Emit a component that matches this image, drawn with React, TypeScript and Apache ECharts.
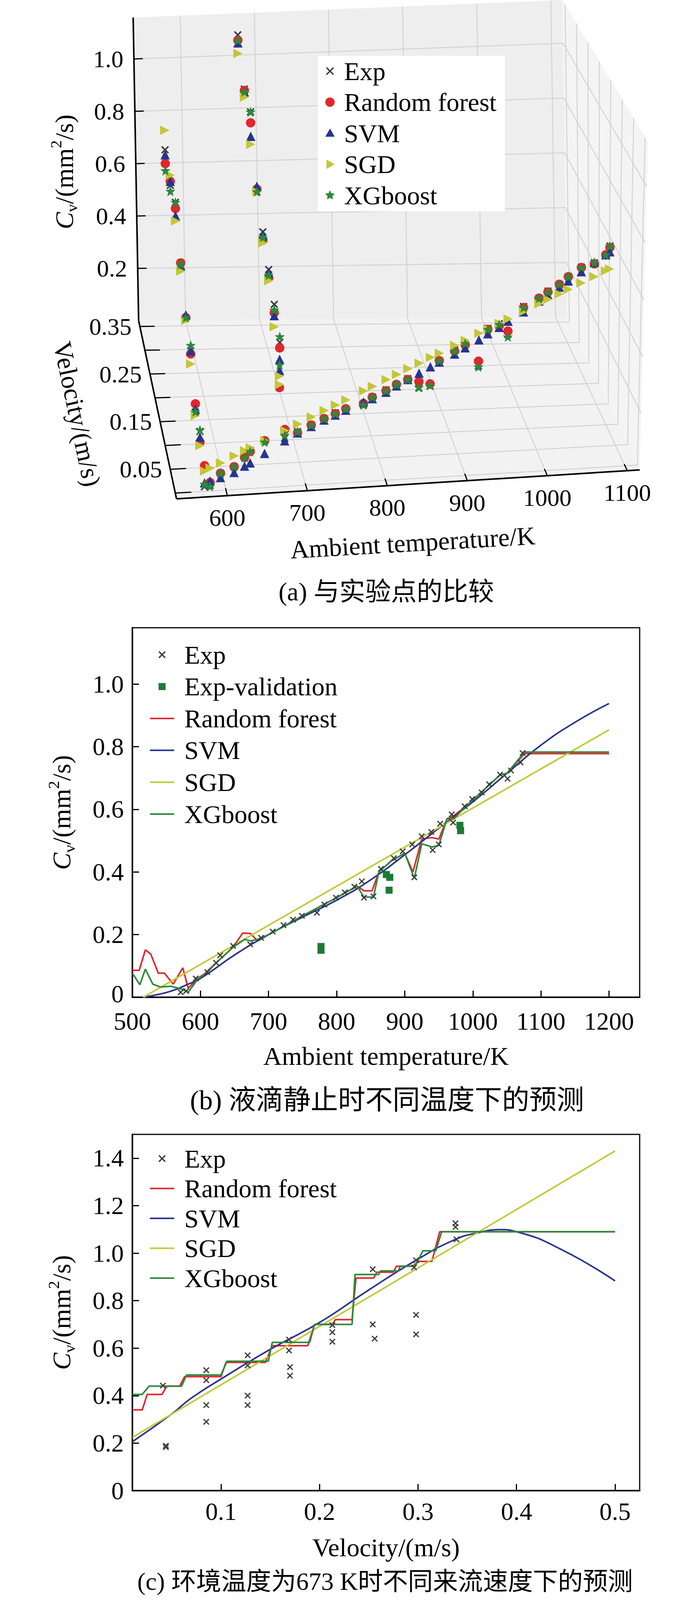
import { useEffect, useRef } from "react"
import * as echarts from "echarts"

const PAGE_W = 1772
const PAGE_H = 4181
const SERIF = "'Liberation Serif', 'Times New Roman', serif"
const CAPTION_FONT = "'Liberation Serif', 'Noto Sans CJK SC', serif"

const RED = "#e2262c"
const BLUE = "#26348f"
const OLIVE = "#c3c736"
const GREEN = "#2b8a3b"
const DARK_GREEN = "#1d7a33"
const GREY = "#3d3d3d"

const X_SYMBOL = "path://M0,1.4L1.4,0L5,3.6L8.6,0L10,1.4L6.4,5L10,8.6L8.6,10L5,6.4L1.4,10L0,8.6L3.6,5Z"
const STAR_SYMBOL = "path://M5,0L6.3,3.4L10,3.6L7.1,5.9L8.1,9.6L5,7.5L1.9,9.6L2.9,5.9L0,3.6L3.7,3.4Z"

// ---------- (a) 3D comparison with experiment ----------
const aBoxT = [536.5, 1115.5]
const aBoxV = [-0.012, 0.362]
const aBoxC = [0, 1.158]
const aTicksT = [600, 700, 800, 900, 1000, 1100]
const aTicksV = [0, 0.05, 0.1, 0.15, 0.2, 0.25, 0.3, 0.35]
const aLabelsV = [0.05, 0.15, 0.25, 0.35]
const aTicksC = [0.2, 0.4, 0.6, 0.8, 1.0]

// static droplet (velocity 0)
const aStaticT = [573, 580, 593, 610, 623, 630, 648, 673, 689, 706, 722, 736, 749, 771, 782, 799, 812, 826, 840, 854, 865, 884, 897, 914, 925, 939, 950, 969, 988, 999, 1013, 1024, 1040, 1056, 1070, 1075]
const aStaticExp = [0.016, 0.02, 0.06, 0.08, 0.11, 0.134, 0.164, 0.169, 0.19, 0.21, 0.23, 0.248, 0.26, 0.27, 0.296, 0.318, 0.335, 0.353, 0.318, 0.322, 0.41, 0.444, 0.466, 0.383, 0.514, 0.528, 0.488, 0.584, 0.61, 0.633, 0.654, 0.68, 0.711, 0.724, 0.75, 0.78]
const aStaticRF = [0.09, 0.03, 0.06, 0.08, 0.11, 0.13, 0.165, 0.2, 0.185, 0.21, 0.23, 0.245, 0.26, 0.275, 0.295, 0.315, 0.335, 0.35, 0.34, 0.33, 0.41, 0.44, 0.46, 0.4, 0.51, 0.52, 0.5, 0.58, 0.61, 0.63, 0.655, 0.68, 0.71, 0.72, 0.75, 0.775]
const aStaticSVM = [0.03, 0.035, 0.045, 0.06, 0.08, 0.09, 0.12, 0.16, 0.185, 0.205, 0.225, 0.24, 0.255, 0.28, 0.29, 0.31, 0.33, 0.35, 0.37, 0.39, 0.405, 0.43, 0.45, 0.475, 0.495, 0.515, 0.535, 0.565, 0.6, 0.62, 0.645, 0.665, 0.695, 0.725, 0.75, 0.76]
const aStaticSGD = [0.071, 0.08, 0.096, 0.118, 0.134, 0.143, 0.165, 0.196, 0.216, 0.238, 0.258, 0.275, 0.291, 0.319, 0.333, 0.354, 0.37, 0.388, 0.405, 0.423, 0.436, 0.46, 0.476, 0.498, 0.511, 0.529, 0.543, 0.566, 0.59, 0.604, 0.621, 0.635, 0.655, 0.675, 0.693, 0.699]
const aStaticXG = [0.025, 0.016, 0.06, 0.08, 0.11, 0.13, 0.16, 0.18, 0.19, 0.21, 0.23, 0.245, 0.26, 0.27, 0.295, 0.315, 0.335, 0.35, 0.32, 0.325, 0.41, 0.44, 0.465, 0.38, 0.51, 0.525, 0.48, 0.58, 0.61, 0.63, 0.655, 0.68, 0.71, 0.725, 0.75, 0.78]

// moving droplet at 573 K
const aCol573V = [0.043, 0.085, 0.127, 0.17, 0.213, 0.255, 0.298, 0.34]
const a573Exp = [0.14, 0.14, 0.29, 0.34, 0.47, 0.626, 0.62, 0.686]
const a573RF = [0.102, 0.169, 0.279, 0.34, 0.47, 0.603, 0.635, 0.634]
const a573SVM = [0.12, 0.15, 0.29, 0.35, 0.46, 0.576, 0.635, 0.667]
const a573SGD = [0.09, 0.127, 0.243, 0.33, 0.44, 0.557, 0.658, 0.76]
const a573XG = [0.145, 0.141, 0.31, 0.34, 0.465, 0.626, 0.598, 0.607]

// moving droplet at 673 K
const aCol673V = [0.043, 0.043, 0.085, 0.127, 0.17, 0.213, 0.255, 0.298, 0.34]
const a673Exp = [0.28, 0.44, 0.51, 0.57, 0.64, 0.72, 0.95, 0.97, 1.11]
const a673RF = [0.28, 0.42, 0.48, 0.54, 0.61, 0.73, 0.91, 0.965, 1.09]
const a673SVM = [0.34, 0.38, 0.47, 0.56, 0.63, 0.74, 0.86, 0.96, 1.08]
const a673SGD = [0.29, 0.32, 0.43, 0.53, 0.6, 0.72, 0.83, 0.94, 1.04]
const a673XG = [0.36, 0.46, 0.49, 0.55, 0.62, 0.72, 0.95, 0.96, 1.09]

// ---------- (b) static droplet, different temperatures ----------
const bTicksT = [500, 600, 700, 800, 900, 1000, 1100, 1200]
const bTicksC = [0, 0.2, 0.4, 0.6, 0.8, 1.0]
const bExpT = [571, 579, 593, 610, 623, 629, 648, 673, 689, 706, 722, 736, 749, 771, 782, 799, 812, 826, 837, 840, 854, 865, 884, 897, 911, 914, 925, 939, 941, 950, 952, 969, 971, 988, 999, 1013, 1024, 1040, 1051, 1056, 1070, 1073]
const bExpCv = [0.016, 0.02, 0.06, 0.08, 0.11, 0.134, 0.164, 0.169, 0.19, 0.21, 0.23, 0.248, 0.26, 0.27, 0.296, 0.318, 0.335, 0.353, 0.37, 0.318, 0.322, 0.41, 0.444, 0.466, 0.488, 0.383, 0.514, 0.528, 0.47, 0.488, 0.554, 0.584, 0.558, 0.61, 0.633, 0.654, 0.68, 0.711, 0.698, 0.724, 0.75, 0.78]
const bValT = [777, 777, 873, 878, 877, 981, 982]
const bValCv = [0.15, 0.162, 0.392, 0.383, 0.342, 0.549, 0.532]
const bRfT = [500, 510, 519, 527, 538, 547, 560, 574, 582, 596, 607, 623, 648, 662, 673, 684, 700, 750, 800, 830, 840, 852, 862, 880, 900, 912, 925, 940, 950, 962, 972, 990, 1040, 1050, 1076, 1200]
const bRfCv = [0.086, 0.086, 0.151, 0.138, 0.077, 0.077, 0.042, 0.094, 0.029, 0.06, 0.077, 0.11, 0.16, 0.205, 0.204, 0.18, 0.2, 0.26, 0.318, 0.355, 0.34, 0.34, 0.4, 0.435, 0.46, 0.4, 0.505, 0.51, 0.505, 0.57, 0.58, 0.61, 0.71, 0.715, 0.778, 0.778]
const bSvmT = [516, 540, 560, 580, 600, 650, 700, 750, 800, 850, 900, 950, 1000, 1050, 1100, 1150, 1200]
const bSvmCv = [0, 0.01, 0.022, 0.04, 0.06, 0.135, 0.2, 0.256, 0.31, 0.375, 0.455, 0.54, 0.624, 0.715, 0.805, 0.878, 0.938]
const bSgdT = [516, 1200]
const bSgdCv = [0, 0.854]
const bXgT = [500, 511, 519, 530, 541, 557, 574, 582, 596, 610, 623, 648, 665, 673, 684, 700, 750, 800, 830, 840, 854, 862, 880, 900, 914, 925, 940, 950, 962, 972, 990, 1040, 1050, 1076, 1200]
const bXgCv = [0.077, 0.04, 0.09, 0.042, 0.033, 0.035, 0.025, 0.016, 0.058, 0.08, 0.11, 0.16, 0.185, 0.18, 0.185, 0.2, 0.26, 0.318, 0.355, 0.32, 0.32, 0.4, 0.435, 0.46, 0.38, 0.49, 0.48, 0.485, 0.57, 0.57, 0.61, 0.71, 0.715, 0.783, 0.783]

// ---------- (c) 673 K, different velocities ----------
const cTicksV = [0.1, 0.2, 0.3, 0.4, 0.5]
const cTicksC = [0, 0.2, 0.4, 0.6, 0.8, 1.0, 1.2, 1.4]
const cExpV = [0.044, 0.044, 0.041, 0.085, 0.085, 0.085, 0.085, 0.127, 0.127, 0.127, 0.127, 0.169, 0.169, 0.17, 0.17, 0.213, 0.213, 0.213, 0.254, 0.254, 0.256, 0.298, 0.296, 0.298, 0.298, 0.338, 0.338, 0.339]
const cExpCv = [0.189, 0.183, 0.442, 0.507, 0.465, 0.36, 0.29, 0.57, 0.527, 0.4, 0.36, 0.636, 0.59, 0.52, 0.484, 0.697, 0.667, 0.627, 0.932, 0.7, 0.64, 0.97, 0.94, 0.74, 0.658, 1.126, 1.11, 1.058]
const cRfV = [0.01, 0.02, 0.025, 0.04, 0.045, 0.058, 0.063, 0.1, 0.105, 0.145, 0.152, 0.188, 0.195, 0.213, 0.216, 0.233, 0.237, 0.255, 0.258, 0.275, 0.278, 0.295, 0.3, 0.314, 0.322, 0.5]
const cRfCv = [0.34, 0.34, 0.405, 0.405, 0.44, 0.44, 0.48, 0.48, 0.54, 0.54, 0.61, 0.61, 0.7, 0.7, 0.72, 0.72, 0.895, 0.895, 0.92, 0.92, 0.945, 0.945, 0.965, 0.965, 1.09, 1.09]
const cSvmV = [0.01, 0.05, 0.069, 0.1, 0.15, 0.2, 0.25, 0.3, 0.338, 0.36, 0.383, 0.4, 0.448, 0.5]
const cSvmCv = [0.206, 0.323, 0.387, 0.47, 0.595, 0.708, 0.845, 0.975, 1.058, 1.085, 1.099, 1.09, 1.01, 0.883]
const cSgdV = [0.01, 0.5]
const cSgdCv = [0.224, 1.43]
const cXgV = [0.01, 0.02, 0.027, 0.06, 0.065, 0.1, 0.106, 0.148, 0.152, 0.19, 0.195, 0.233, 0.236, 0.26, 0.262, 0.28, 0.282, 0.297, 0.305, 0.318, 0.324, 0.5]
const cXgCv = [0.405, 0.405, 0.44, 0.44, 0.487, 0.487, 0.545, 0.545, 0.624, 0.624, 0.7, 0.7, 0.91, 0.91, 0.925, 0.925, 0.945, 0.945, 1.01, 1.01, 1.09, 1.09]

// screen corners of the 3D box, [t][v][c] with 0 = min, 1 = max
const boxCorners = [
  [[[452, 1277], [457, 427]], [[355, 821], [341, 45]]],
  [[[1638, 1203], [1659, 363]], [[1452, 812], [1440, 0]]],
]

// panel (c) frame
const C_TOP = 2904
const C_HEIGHT = 912

function project(t: number, v: number, c: number): number[] {
  const u = (t - aBoxT[0]) / (aBoxT[1] - aBoxT[0])
  const s = (v - aBoxV[0]) / (aBoxV[1] - aBoxV[0])
  const r = (c - aBoxC[0]) / (aBoxC[1] - aBoxC[0])
  let x = 0
  let y = 0
  for (const i of [0, 1])
    for (const j of [0, 1])
      for (const k of [0, 1]) {
        const w = (i ? u : 1 - u) * (j ? s : 1 - s) * (k ? r : 1 - r)
        x += w * boxCorners[i][j][k][0]
        y += w * boxCorners[i][j][k][1]
      }
  return [x, y]
}

const zip = (xs: number[], ys: number[]) => xs.map((x, i) => [x, ys[i]])

function panelAPoints(staticCv: number[], cv573: number[], cv673: number[]) {
  const pts: number[][] = []
  aStaticT.forEach((t, i) => pts.push(project(t, 0, staticCv[i])))
  aCol573V.forEach((v, i) => pts.push(project(573, v, cv573[i])))
  aCol673V.forEach((v, i) => pts.push(project(673, v, cv673[i])))
  return pts
}

const cvRich = (size: number) => ({
  i: { fontFamily: SERIF, fontStyle: "italic", fontSize: size, lineHeight: size * 1.25, color: "#000", fill: "#000" },
  s: { fontFamily: SERIF, fontSize: size * 0.62, verticalAlign: "bottom", color: "#000", fill: "#000" },
  n: { fontFamily: SERIF, fontSize: size, lineHeight: size * 1.25, color: "#000", fill: "#000" },
  p: { fontFamily: SERIF, fontSize: size * 0.62, verticalAlign: "top", color: "#000", fill: "#000" },
})
const CV_NAME = "{i|C}{s|v}{n|/(mm}{p|2}{n|/s)}"

function text(x: number, y: number, str: string, size: number, align = "center", extra: any = {}) {
  return {
    type: "text",
    x,
    y,
    z: 10,
    silent: true,
    style: { text: str, fontFamily: SERIF, fontSize: size, fill: "#000", align, verticalAlign: "middle" },
    ...extra,
  }
}

function marker(kind: string, cx: number, cy: number, color: string, size: number): any[] {
  const h = size / 2
  const base = { z: 10, silent: true }
  if (kind === "line")
    return [{ ...base, type: "line", shape: { x1: cx - 31, y1: cy, x2: cx + 31, y2: cy }, style: { stroke: color, lineWidth: 4 } }]
  if (kind === "x")
    return [
      { ...base, type: "line", shape: { x1: cx - h, y1: cy - h, x2: cx + h, y2: cy + h }, style: { stroke: color, lineWidth: 3.5 } },
      { ...base, type: "line", shape: { x1: cx - h, y1: cy + h, x2: cx + h, y2: cy - h }, style: { stroke: color, lineWidth: 3.5 } },
    ]
  if (kind === "circle") return [{ ...base, type: "circle", shape: { cx, cy, r: h }, style: { fill: color } }]
  if (kind === "square") return [{ ...base, type: "rect", shape: { x: cx - h, y: cy - h, width: size, height: size }, style: { fill: color } }]
  if (kind === "triangle")
    return [{ ...base, type: "polygon", shape: { points: [[cx, cy - h], [cx + h, cy + h * 0.75], [cx - h, cy + h * 0.75]] }, style: { fill: color } }]
  if (kind === "arrow")
    return [{ ...base, type: "polygon", shape: { points: [[cx + h, cy], [cx - h * 0.75, cy - h], [cx - h * 0.75, cy + h]] }, style: { fill: color } }]
  const pts: number[][] = []
  for (let i = 0; i < 10; i++) {
    const a = -Math.PI / 2 + (i * Math.PI) / 5
    const rr = i % 2 ? h * 0.5 : h
    pts.push([cx + rr * Math.cos(a), cy + rr * Math.sin(a)])
  }
  return [{ ...base, type: "polygon", shape: { points: pts }, style: { fill: color } }]
}

function legendBlock(items: any[][], mx: number, tx: number, y0: number, dy: number) {
  const out: any[] = []
  items.forEach(([label, kind, color, size], i) => {
    const y = y0 + i * dy
    out.push(...marker(kind, mx, y, color, size))
    out.push(text(tx, y, label, 66, "left"))
  })
  return out
}

function buildOption() {
  const [T0, T1] = aBoxT
  const [V0, V1] = aBoxV
  const [C0, C1] = aBoxC
  const g: any[] = []

  // panes
  const pane = (pts: number[][], fill: string) => ({ type: "polygon", z: 0, silent: true, shape: { points: pts }, style: { fill } })
  g.push(pane([project(T0, V0, C0), project(T1, V0, C0), project(T1, V1, C0), project(T0, V1, C0)], "#f2f2f2"))
  g.push(pane([project(T0, V1, C0), project(T1, V1, C0), project(T1, V1, C1), project(T0, V1, C1)], "#eeeeee"))
  g.push(pane([project(T1, V0, C0), project(T1, V1, C0), project(T1, V1, C1), project(T1, V0, C1)], "#f4f4f4"))

  // grid lines
  const gl = (pts: number[][]) => ({ type: "polyline", z: 1, silent: true, shape: { points: pts }, style: { stroke: "#d3d3d3", lineWidth: 2.5, fill: null } })
  aTicksT.forEach((t) => g.push(gl([project(t, V0, C0), project(t, V1, C0), project(t, V1, C1)])))
  aTicksV.forEach((v) => g.push(gl([project(T0, v, C0), project(T1, v, C0), project(T1, v, C1)])))
  aTicksC.forEach((c) => g.push(gl([project(T0, V1, c), project(T1, V1, c), project(T1, V0, c)])))

  // axes
  const al = (a: number[], b: number[], w = 4) => ({ type: "line", z: 3, silent: true, shape: { x1: a[0], y1: a[1], x2: b[0], y2: b[1] }, style: { stroke: "#000", lineWidth: w } })
  g.push(al(project(T0, V0, C0), project(T1, V0, C0)))
  g.push(al(project(T0, V0, C0), project(T0, V1, C0)))
  g.push(al(project(T0, V1, C0), project(T0, V1, C1)))
  aTicksT.forEach((t) => {
    const p = project(t, V0, C0)
    g.push(al(p, project(t, V0 + 0.016, C0), 3))
    g.push(text(p[0], p[1] + 56, String(t), 62))
  })
  aTicksV.forEach((v) => g.push(al(project(T0, v, C0), project(T0 + 20, v, C0), 3)))
  aLabelsV.forEach((v) => {
    const p = project(T0, v, C0)
    g.push(text(p[0] - 21, p[1], v.toFixed(2), 62, "right"))
  })
  aTicksC.forEach((c) => {
    const p = project(T0, V1, c)
    g.push(al(p, project(T0 + 12, V1, c), 3))
    g.push(text(p[0] - 27, p[1], c.toFixed(1), 62, "right"))
  })
  g.push(text(1057, 1389, "Ambient temperature/K", 66, "center", { rotation: 0.058 }))
  g.push(text(198, 1060, "Velocity/(m/s)", 66, "center", { rotation: -1.361 }))
  g.push({
    type: "text",
    x: 164,
    y: 440,
    z: 10,
    rotation: Math.PI / 2,
    silent: true,
    style: { text: CV_NAME, rich: cvRich(66), align: "center", verticalAlign: "middle", fill: "#000" },
  })

  // legends
  g.push({ type: "rect", z: 9, silent: true, shape: { x: 814, y: 143, width: 479, height: 398 }, style: { fill: "#fff" } })
  g.push(
    ...legendBlock(
      [
        ["Exp", "x", GREY, 18],
        ["Random forest", "circle", RED, 24],
        ["SVM", "triangle", BLUE, 24],
        ["SGD", "arrow", OLIVE, 24],
        ["XGboost", "star", GREEN, 26],
      ],
      845, 881, 182, 79.5
    )
  )
  g.push(
    ...legendBlock(
      [
        ["Exp", "x", GREY, 16],
        ["Exp-validation", "square", DARK_GREEN, 18],
        ["Random forest", "line", RED, 0],
        ["SVM", "line", BLUE, 0],
        ["SGD", "line", OLIVE, 0],
        ["XGboost", "line", GREEN, 0],
      ],
      415, 472, 1676, 81.6
    )
  )
  g.push(
    ...legendBlock(
      [
        ["Exp", "x", GREY, 16],
        ["Random forest", "line", RED, 0],
        ["SVM", "line", BLUE, 0],
        ["SGD", "line", OLIVE, 0],
        ["XGboost", "line", GREEN, 0],
      ],
      415, 472, C_TOP + 62, 76.5
    )
  )

  // captions
  const cap = (x: number, y: number, s: string, size: number) => ({
    type: "text", x, y, z: 10, silent: true,
    style: { text: s, fontFamily: CAPTION_FONT, fontSize: size, fill: "#000", align: "center", verticalAlign: "middle" },
  })
  g.push(cap(989, 1514, "(a) 与实验点的比较", 66))
  g.push(cap(991, 2816, "(b) 液滴静止时不同温度下的预测", 70))
  g.push(cap(986, C_TOP + C_HEIGHT + 232, "(c) 环境温度为673 K时不同来流速度下的预测", 64))

  const axisFont = { fontFamily: SERIF, fontSize: 66, color: "#000" }
  const labelFont = { fontFamily: SERIF, fontSize: 64, color: "#000" }
  const boxAxisLine = { show: true, onZero: false, lineStyle: { color: "#000", width: 4 } }
  const tick = (vals: number[]) => ({ show: true, inside: true, length: 17, customValues: vals, lineStyle: { color: "#000", width: 3 } })
  const fmt1 = (v: number) => (v === 0 ? "0" : v.toFixed(1))
  const fmtZeroLifted = (v: number) => (v === 0 ? "{z|0}" : v.toFixed(1))
  const fmt0 = (v: number) => String(v)
  const frame = { show: true, borderColor: "#000", borderWidth: 3, backgroundColor: "transparent", containLabel: false, outerBoundsMode: "none" }

  const aScatter = (name: string, symbol: string, size: number, color: string, data: number[][], rotate = 0) => ({
    name, type: "scatter", xAxisIndex: 0, yAxisIndex: 0, symbol, symbolSize: size, symbolRotate: rotate,
    itemStyle: { color, opacity: 1 }, data, z: 5, silent: true,
  })
  const lineSeries = (idx: number, name: string, color: string, data: number[][], smooth = false) => ({
    name, type: "line", xAxisIndex: idx, yAxisIndex: idx, data, symbol: "none", smooth,
    lineStyle: { color, width: 4 }, itemStyle: { color }, z: 3, silent: true,
  })
  const scatter = (idx: number, name: string, symbol: string, size: number, color: string, data: number[][]) => ({
    name, type: "scatter", xAxisIndex: idx, yAxisIndex: idx, symbol, symbolSize: size,
    itemStyle: { color, opacity: 1 }, data, z: 4, silent: true,
  })

  return {
    animation: false,
    backgroundColor: "#fff",
    textStyle: { fontFamily: SERIF },
    grid: [
      { left: 0, top: 0, width: PAGE_W, height: 1500, show: false, containLabel: false, outerBoundsMode: "none" },
      { left: 339, top: 1607, width: 1299, height: 946, ...frame },
      { left: 339, top: C_TOP, width: 1299, height: C_HEIGHT, ...frame },
    ],
    xAxis: [
      { gridIndex: 0, type: "value", min: 0, max: PAGE_W, show: false },
      {
        gridIndex: 1, type: "value", min: 500, max: 1245,
        name: "Ambient temperature/K", nameLocation: "middle", nameGap: 117, nameTextStyle: axisFont,
        axisLine: boxAxisLine, axisTick: tick(bTicksT),
        axisLabel: { show: true, customValues: bTicksT, margin: 36, lineHeight: 50, formatter: fmt0, ...labelFont },
        splitLine: { show: false },
      },
      {
        gridIndex: 2, type: "value", min: 0.01, max: 0.525,
        name: "Velocity/(m/s)", nameLocation: "middle", nameGap: 112, nameTextStyle: axisFont,
        axisLine: boxAxisLine, axisTick: tick(cTicksV),
        axisLabel: { show: true, customValues: cTicksV, margin: 28, lineHeight: 50, formatter: fmt1, ...labelFont },
        splitLine: { show: false },
      },
    ],
    yAxis: [
      { gridIndex: 0, type: "value", min: 0, max: 1500, inverse: true, show: false },
      {
        gridIndex: 1, type: "value", min: 0, max: 1.18,
        name: CV_NAME, nameLocation: "middle", nameGap: 140, nameRotate: 90, nameTextStyle: { rich: cvRich(66) },
        axisLine: boxAxisLine, axisTick: tick(bTicksC),
        axisLabel: {
          show: true, customValues: bTicksC, margin: 22, lineHeight: 50, formatter: fmtZeroLifted, ...labelFont,
          rich: { z: { fontFamily: SERIF, fontSize: 64, color: "#000", padding: [0, 0, 18, 0] } },
        },
        splitLine: { show: false },
      },
      {
        gridIndex: 2, type: "value", min: 0, max: 1.5,
        name: CV_NAME, nameLocation: "middle", nameGap: 140, nameRotate: 90, nameTextStyle: { rich: cvRich(66) },
        axisLine: boxAxisLine, axisTick: tick(cTicksC),
        axisLabel: { show: true, customValues: cTicksC, margin: 22, lineHeight: 50, formatter: fmt1, ...labelFont },
        splitLine: { show: false },
      },
    ],
    graphic: { elements: g },
    series: [
      aScatter("Exp (a)", X_SYMBOL, 20, GREY, panelAPoints(aStaticExp, a573Exp, a673Exp)),
      aScatter("Random forest (a)", "circle", 24, RED, panelAPoints(aStaticRF, a573RF, a673RF)),
      aScatter("SVM (a)", "triangle", 24, BLUE, panelAPoints(aStaticSVM, a573SVM, a673SVM)),
      aScatter("SGD (a)", "triangle", 24, OLIVE, panelAPoints(aStaticSGD, a573SGD, a673SGD), -90),
      aScatter("XGboost (a)", STAR_SYMBOL, 26, GREEN, panelAPoints(aStaticXG, a573XG, a673XG)),

      lineSeries(1, "Random forest (b)", RED, zip(bRfT, bRfCv)),
      lineSeries(1, "SVM (b)", BLUE, zip(bSvmT, bSvmCv), true),
      lineSeries(1, "SGD (b)", OLIVE, zip(bSgdT, bSgdCv)),
      lineSeries(1, "XGboost (b)", GREEN, zip(bXgT, bXgCv)),
      scatter(1, "Exp (b)", X_SYMBOL, 16, GREY, zip(bExpT, bExpCv)),
      scatter(1, "Exp-validation (b)", "rect", 18, DARK_GREEN, zip(bValT, bValCv)),

      lineSeries(2, "Random forest (c)", RED, zip(cRfV, cRfCv)),
      lineSeries(2, "SVM (c)", BLUE, zip(cSvmV, cSvmCv), true),
      lineSeries(2, "SGD (c)", OLIVE, zip(cSgdV, cSgdCv)),
      lineSeries(2, "XGboost (c)", GREEN, zip(cXgV, cXgCv)),
      scatter(2, "Exp (c)", X_SYMBOL, 16, GREY, zip(cExpV, cExpCv)),
    ],
  }
}

export default function App() {
  const chartRef = useRef<HTMLDivElement>(null)

  useEffect(() => {
    if (!chartRef.current) return
    document.body.style.margin = "0"
    const chart = echarts.init(chartRef.current, undefined, { renderer: "svg", width: PAGE_W, height: PAGE_H })
    chart.setOption(buildOption() as any)
    return () => chart.dispose()
  }, [])

  return <div ref={chartRef} style={{ width: PAGE_W, height: PAGE_H, background: "#fff" }} />
}
